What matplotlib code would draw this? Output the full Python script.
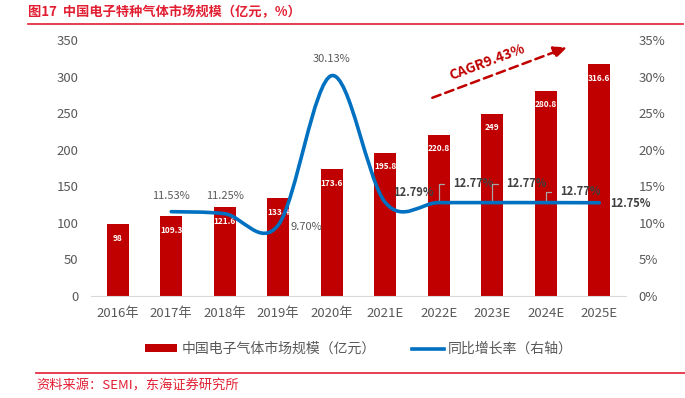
import matplotlib.pyplot as plt
from matplotlib.path import Path
from matplotlib.patches import PathPatch, Patch
from matplotlib.lines import Line2D
from matplotlib.ticker import MultipleLocator, FuncFormatter

plt.rcParams['font.family'] = ['Noto Sans CJK SC', 'DejaVu Sans']

# data
years = ['2016年', '2017年', '2018年', '2019年', '2020年',
         '2021E', '2022E', '2023E', '2024E', '2025E']
market = [98, 109.3, 121.6, 133.4, 173.6, 195.8, 220.8, 249, 280.8, 316.6]
growth_years = [1, 2, 3, 4, 5, 6, 7, 8, 9]
growth = [11.53, 11.25, 9.70, 30.13, 12.79, 12.77, 12.77, 12.77, 12.75]
cagr_text = 'CAGR9.43%'

RED = '#C00000'
BLUE = '#0070C0'
GRAY = '#595959'
HEAD_RED = '#E21E32'


def smooth_path(xs, ys):
    # excel-like smoothed line as cubic bezier segments
    n = len(xs)
    verts = [(xs[0], ys[0])]
    codes = [Path.MOVETO]
    for i in range(n - 1):
        a = max(i - 1, 0)
        b = min(i + 2, n - 1)
        c1 = (xs[i] + (xs[i + 1] - xs[a]) / 6, ys[i] + (ys[i + 1] - ys[a]) / 6)
        c2 = (xs[i + 1] - (xs[b] - xs[i]) / 6, ys[i + 1] - (ys[b] - ys[i]) / 6)
        verts += [c1, c2, (xs[i + 1], ys[i + 1])]
        codes += [Path.CURVE4] * 3
    return Path(verts, codes)


fig = plt.figure(figsize=(6.85, 3.98), dpi=100)
ax = fig.add_axes([91 / 685, 1 - 296 / 398, 535 / 685, 256 / 398])
ax2 = ax.twinx()

x = list(range(len(years)))
bars = ax.bar(x, market, width=0.41, color=RED, zorder=2)
for xi, v in zip(x, market):
    ax.annotate(f'{v:g}', (xi, v), xytext=(0, -14), textcoords='offset pixels',
                ha='center', va='center', color='white', fontsize=6,
                fontweight='bold', zorder=3)

ax.set_xlim(-0.5, 9.5)
ax.set_ylim(0, 350)
ax.yaxis.set_major_locator(MultipleLocator(50))
ax.set_xticks(x)
ax.set_xticklabels(years)
ax.tick_params(axis='both', length=0, colors=GRAY, labelsize=9.5)
ax.tick_params(axis='x', pad=8)
ax.tick_params(axis='y', pad=9)
for s in ['top', 'left', 'right']:
    ax.spines[s].set_visible(False)
ax.spines['bottom'].set_color('#D9D9D9')

ax2.set_ylim(0, 35)
ax2.yaxis.set_major_locator(MultipleLocator(5))
ax2.yaxis.set_major_formatter(FuncFormatter(lambda v, p: f'{v:.0f}%'))
ax2.tick_params(axis='y', length=0, colors=GRAY, labelsize=9.5, pad=9)
for s in ax2.spines.values():
    s.set_visible(False)

ax2.add_patch(PathPatch(smooth_path(growth_years, growth), fill=False,
                        edgecolor=BLUE, lw=2.6, capstyle='round', zorder=4))

# growth labels (offsets in pixels)
offsets = [(0, 16), (0, 18), (28, -2), (0, 17), (28, 10), None, None, None, (31, -1)]
for i, (gx, gv) in enumerate(zip(growth_years, growth)):
    if offsets[i] is not None:
        ax2.annotate(f'{gv:.2f}%', (gx, gv), xytext=offsets[i],
                     textcoords='offset pixels', ha='center', va='center',
                     fontsize=8, color='#404040' if i >= 4 else GRAY,
                     fontweight='bold' if i >= 4 else 'normal')
callouts = {5: (14, 19), 6: (14, 19), 7: (14, 11)}
for i, off in callouts.items():
    ax2.annotate(f'{growth[i]:.2f}%', (growth_years[i], growth[i]), xytext=off,
                 textcoords='offset pixels', ha='left', va='center',
                 fontsize=8, color='#404040', fontweight='bold',
                 arrowprops=dict(arrowstyle='-', color='#A6A6A6', lw=0.9,
                                 connectionstyle='angle,angleA=0,angleB=90,rad=0',
                                 relpos=(0, 0.5), shrinkA=4, shrinkB=0))

# CAGR arrow
ax.annotate('', xy=(8.40, 340), xytext=(5.88, 271),
            arrowprops=dict(arrowstyle='-|>,head_length=0.8,head_width=0.35',
                            color=RED, lw=1.8, linestyle=(0, (3.5, 2)),
                            shrinkA=0, shrinkB=0))
ax.text(6.9, 320, cagr_text, rotation=20.6, ha='center', va='center',
        color=RED, fontsize=10, fontweight='bold', rotation_mode='anchor')

# legend
handles = [Patch(facecolor=RED, edgecolor='none'),
           Line2D([], [], color=BLUE, lw=2.6)]
fig.legend(handles, ['中国电子气体市场规模（亿元）', '同比增长率（右轴）'],
           loc='center', bbox_to_anchor=(0.524, 1 - 349 / 398), ncol=2,
           frameon=False, fontsize=10, labelcolor=GRAY, handlelength=2.3,
           handleheight=0.5, handletextpad=0.3, columnspacing=2.6)

# title and source
fig.text(28 / 685, 1 - 12 / 398, '图17  中国电子特种气体市场规模（亿元，%）',
         color=HEAD_RED, fontsize=9.5, fontweight='bold', va='center')
fig.add_artist(Line2D([28 / 685, 683 / 685], [1 - 23.5 / 398] * 2,
                      color=HEAD_RED, lw=1.2))
fig.add_artist(Line2D([36 / 685, 1], [1 - 373 / 398] * 2, color=HEAD_RED, lw=1.2))
fig.text(36 / 685, 1 - 386 / 398, '资料来源：SEMI，东海证券研究所',
         color=HEAD_RED, fontsize=9.5, va='center')

fig.savefig('out.png', dpi=100)
